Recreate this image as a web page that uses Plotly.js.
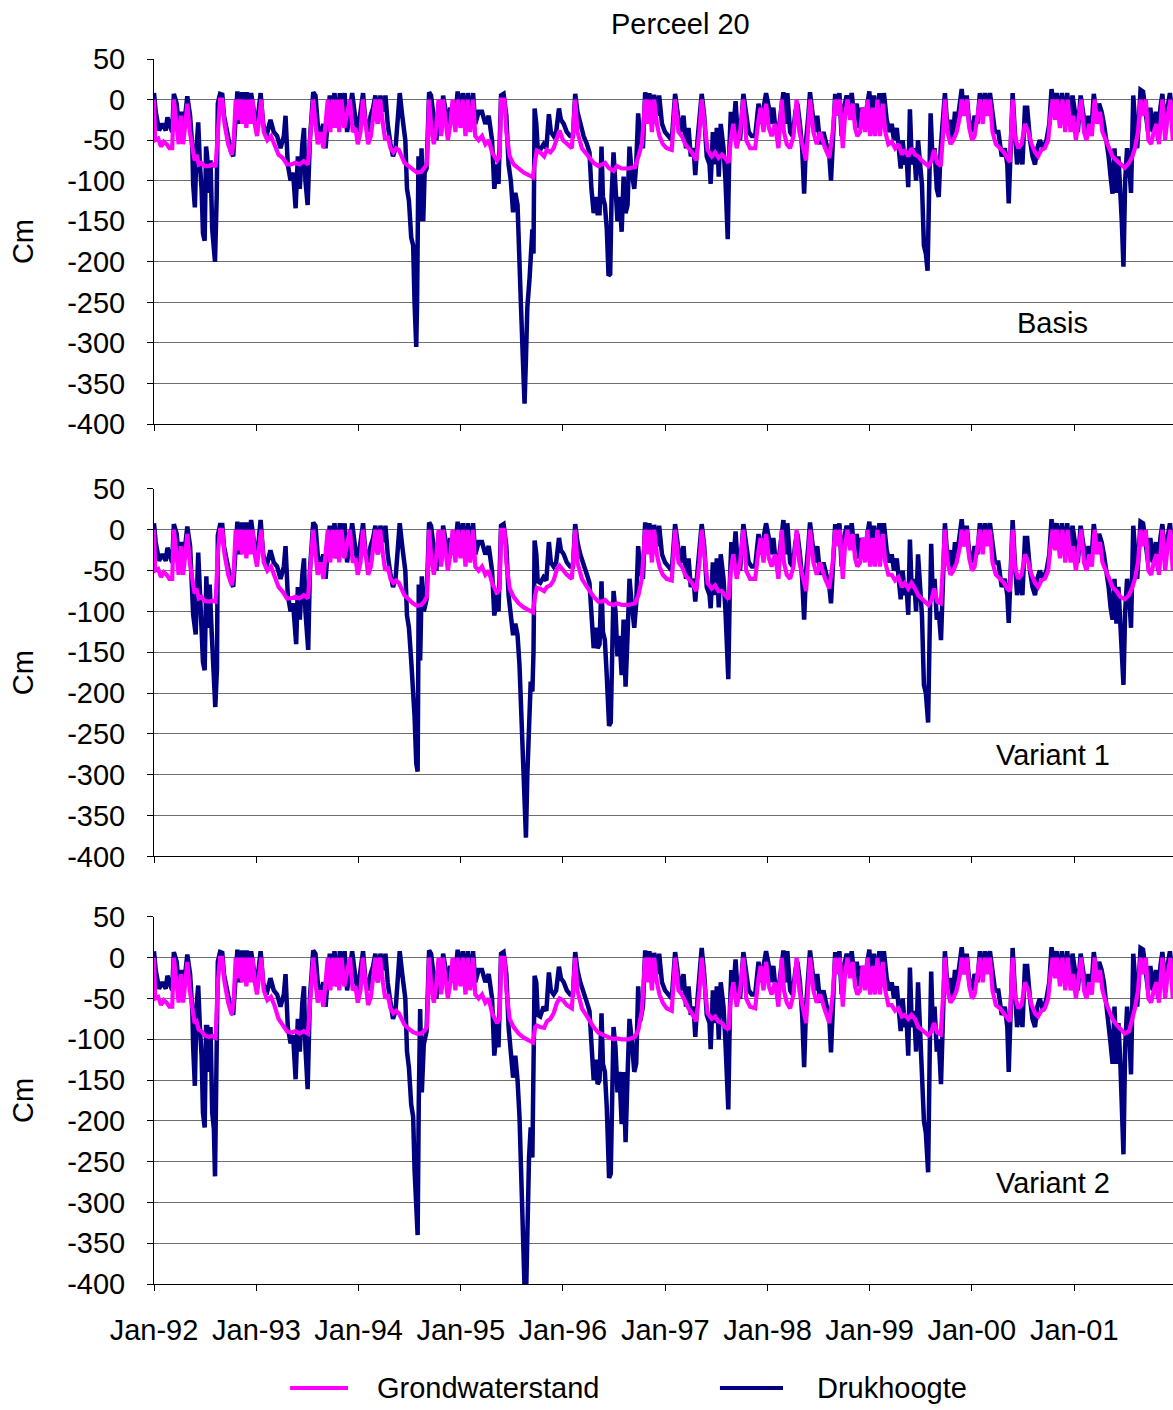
<!DOCTYPE html>
<html>
<head>
<meta charset="utf-8">
<script src="https://cdn.plot.ly/plotly-3.0.1.min.js"></script>
<style>html,body{margin:0;padding:0;background:#fff;}#chart{width:1173px;height:1410px;}</style>
</head>
<body>
<div id="chart"></div>
<script>
// Values: flat lists of [day offset from 1 Jan 1992, value in cm]
const basisDruk = [0,8,6,-15,18,-38,30,-30,42,-38,48,-22,60,-35,65,-40,71,7,81,-5,89,-35,98,-15,105,-40,113,-20,119,4,129,-20,137,-60,140,-105,146,-133,152,-60,158,-28,164,-80,170,-110,175,-165,181,-174,186,-58,190,-70,196,-115,202,-75,208,-160,214,-180,218,-200,224,-120,228,-5,236,7,244,6,250,-20,262,-45,274,-62,283,-70,292,-5,298,10,307,-30,315,9,324,-25,331,9,339,-20,347,8,357,-15,367,-35,375,-10,381,8,390,-30,402,-45,416,-25,428,-40,440,-45,452,-60,464,-45,470,-20,478,-80,488,-100,497,-90,506,-134,514,-70,521,-110,530,-55,536,-35,541,-100,549,-130,557,-50,562,-30,569,9,577,5,585,-30,595,-50,605,-30,613,-60,621,-25,628,5,637,-20,645,8,654,-35,664,8,672,-25,681,8,690,-40,700,-10,708,8,720,-25,728,-40,738,-15,747,8,756,-30,764,-40,774,-20,783,-10,791,5,800,-30,809,5,819,-15,827,5,835,-30,845,-55,854,-70,863,-60,871,-20,878,8,887,-20,898,-50,904,-110,911,-125,919,-170,926,-180,931,-250,937,-305,940,-250,945,-70,950,-150,956,-60,962,-150,967,-90,974,-85,978,-30,983,9,990,5,1000,-25,1009,-50,1017,-5,1026,-40,1033,5,1041,-15,1050,-30,1059,-10,1067,-30,1077,-20,1085,10,1095,-25,1103,8,1113,-30,1121,8,1130,-25,1140,8,1148,-30,1160,-15,1172,-15,1184,-30,1196,-20,1208,-50,1216,-110,1226,-80,1231,-104,1240,5,1249,7,1259,-20,1267,-80,1275,-100,1283,-139,1291,-115,1299,-130,1306,-186,1311,-252,1318,-320,1324,-375,1329,-320,1334,-256,1342,-220,1347,-170,1352,-160,1356,-190,1360,-11,1366,-30,1371,-60,1380,-62,1392,-55,1402,-60,1411,-18,1418,-40,1428,-45,1437,-40,1447,-11,1454,-25,1464,-30,1475,-40,1487,-45,1497,-45,1505,7,1513,-15,1523,-30,1535,-45,1547,-55,1556,-65,1563,-110,1571,-140,1578,-120,1585,-140,1592,-140,1599,-58,1604,-120,1611,-130,1618,-160,1624,-217,1630,-215,1635,-120,1642,-65,1649,-100,1656,-150,1663,-120,1671,-163,1678,-95,1685,-140,1692,-130,1699,-58,1707,-90,1716,-110,1723,-80,1730,-17,1737,-50,1747,-60,1755,9,1763,-20,1770,8,1779,-30,1787,6,1797,-20,1805,5,1815,-30,1826,-40,1838,-45,1850,-50,1862,7,1871,-20,1880,-40,1892,-20,1901,-60,1910,-35,1918,-70,1928,-60,1934,-93,1942,-50,1951,-10,1957,7,1966,-20,1975,-70,1985,-80,1989,-104,1997,-40,2004,-80,2011,-35,2018,-95,2025,-30,2035,-60,2042,-100,2047,-140,2050,-172,2056,-60,2061,-15,2070,-40,2078,-2,2085,-40,2094,-50,2106,7,2116,-20,2125,-40,2136,-45,2148,-45,2160,-5,2168,-30,2178,-10,2187,8,2197,-10,2204,-30,2213,-10,2220,-35,2231,-40,2241,-5,2249,9,2256,-30,2263,8,2273,-40,2282,-45,2292,-15,2299,-5,2308,-30,2316,-60,2323,-116,2330,-50,2338,-20,2344,9,2354,-20,2362,-40,2370,-20,2380,-55,2392,-40,2404,-60,2413,-70,2419,-100,2425,-50,2434,7,2442,-10,2449,8,2457,-45,2466,-10,2475,5,2485,-10,2493,8,2501,-20,2511,-5,2520,-35,2529,-10,2537,-25,2547,-10,2556,10,2564,-30,2573,5,2582,-35,2592,8,2600,-25,2608,8,2618,-25,2628,-40,2636,-30,2644,-50,2654,-35,2663,-70,2668,-85,2675,-50,2683,-80,2689,-70,2695,-108,2701,-12,2708,-80,2716,-60,2723,-100,2730,-50,2737,-80,2744,-105,2751,-180,2758,-190,2764,-211,2770,-100,2775,-17,2782,-75,2789,-60,2797,-110,2804,-120,2811,-60,2818,-30,2826,8,2835,-35,2844,-25,2854,-50,2862,-15,2870,-30,2880,-5,2886,13,2894,-20,2904,5,2913,-30,2923,-40,2932,-20,2942,-30,2951,8,2961,-20,2969,8,2977,-10,2987,8,2996,-20,3005,-40,3017,-40,3029,-70,3040,-60,3049,-80,3054,-128,3061,-50,3068,8,3076,-40,3084,-80,3094,-60,3103,-80,3112,-10,3120,-10,3130,-50,3139,-70,3148,-80,3156,-60,3165,-50,3177,-60,3189,-50,3199,-30,3207,13,3215,-10,3225,8,3234,-20,3244,8,3253,-25,3263,8,3273,-30,3282,5,3292,-25,3301,-40,3311,5,3320,-20,3330,-40,3339,-20,3349,-40,3358,7,3368,-20,3377,-5,3386,-15,3394,-30,3403,-50,3411,-70,3418,-95,3425,-116,3432,-60,3439,-115,3446,-70,3453,-110,3458,-150,3464,-206,3470,-100,3477,-60,3484,-80,3491,-115,3499,5,3506,-30,3513,-60,3520,-20,3525,12,3534,10,3544,-20,3552,-40,3560,-10,3570,-40,3580,-15,3588,-50,3596,-10,3603,7,3612,-30,3620,-15,3630,8,3639,-20];

const basisGrond = [0,0,4,-50,15,-48,25,-58,35,-52,45,-55,55,-60,65,-60,71,0,80,-30,88,-55,96,-20,104,-55,112,-30,119,-5,128,-40,136,-58,145,-75,152,-68,160,-80,170,-78,180,-82,195,-82,210,-80,220,-83,228,-30,236,0,244,0,252,-30,265,-55,278,-68,285,-50,292,0,300,-25,307,0,315,-30,322,0,330,-35,338,0,345,-30,352,0,360,-30,368,-45,376,-25,383,0,392,-40,405,-50,418,-45,430,-55,445,-68,460,-72,475,-80,490,-80,505,-78,520,-80,535,-76,550,-80,560,-40,569,0,577,-30,585,-55,595,-40,605,-60,613,-30,621,0,630,-40,638,0,646,-35,654,0,662,-40,670,0,680,-35,690,-20,700,0,710,-40,720,-35,728,-55,738,-40,746,0,755,-30,765,-55,775,-45,783,-25,791,0,800,-30,808,0,818,-30,826,-50,835,-45,845,-60,855,-65,865,-60,875,-62,885,-70,895,-78,910,-82,925,-86,940,-90,955,-89,965,-85,975,-80,983,0,992,-40,1000,-55,1008,-35,1017,0,1026,-45,1033,0,1041,-30,1050,-50,1059,-30,1067,0,1077,-40,1085,0,1095,-35,1103,0,1113,-45,1121,0,1130,-40,1140,0,1148,-45,1160,-50,1172,-45,1184,-55,1196,-50,1208,-65,1226,-75,1235,-70,1240,0,1252,0,1259,-40,1271,-70,1285,-80,1303,-85,1321,-90,1339,-93,1354,-96,1362,-75,1368,-63,1380,-65,1394,-70,1404,-62,1416,-65,1428,-60,1440,-45,1449,-38,1461,-50,1475,-55,1493,-60,1505,0,1513,-40,1529,-60,1547,-68,1571,-78,1588,-82,1600,-80,1612,-78,1624,-84,1642,-88,1654,-82,1672,-85,1696,-85,1719,-83,1731,-70,1743,-55,1755,0,1763,-30,1770,0,1779,-40,1787,0,1797,-30,1806,-45,1818,-55,1832,-60,1850,-62,1862,0,1874,-40,1886,-45,1898,-55,1910,-60,1922,-65,1937,-75,1949,-40,1957,0,1966,-30,1978,-62,1993,-70,2005,-65,2017,-72,2029,-68,2041,-72,2053,-78,2061,-50,2070,-30,2082,-60,2094,-40,2106,0,2116,-50,2130,-60,2148,-60,2160,-25,2168,-10,2178,-40,2187,-5,2197,-35,2207,-45,2219,-30,2231,-60,2243,0,2251,-40,2261,-55,2273,-60,2285,-45,2296,0,2306,-40,2318,-60,2330,-75,2344,0,2356,-40,2368,-55,2380,-40,2398,-60,2413,-72,2425,-40,2434,0,2442,-20,2451,0,2461,-60,2469,-20,2478,0,2487,-25,2497,-5,2505,-35,2513,-45,2523,-40,2532,-10,2541,-40,2549,0,2559,-45,2568,-10,2576,-45,2585,0,2594,-45,2604,-5,2613,-40,2624,-55,2636,-52,2648,-60,2660,-55,2672,-68,2683,-62,2695,-70,2707,-60,2719,-68,2731,-70,2743,-75,2755,-78,2767,-82,2779,-75,2787,-62,2799,-78,2811,-82,2820,-40,2826,0,2835,-40,2846,-55,2856,-50,2868,-40,2880,-20,2886,0,2894,-20,2904,0,2913,-35,2923,-50,2932,-45,2942,-20,2951,0,2961,-30,2969,0,2977,-20,2987,0,2996,-40,3008,-55,3023,-60,3037,-65,3049,-72,3058,-77,3068,0,3076,-45,3088,-60,3100,-55,3112,-30,3124,-40,3136,-55,3148,-65,3159,-70,3171,-62,3183,-60,3195,-50,3203,-20,3211,0,3219,-25,3227,0,3237,-35,3246,0,3256,-40,3265,0,3275,-40,3284,-20,3294,-50,3303,-30,3313,0,3323,-40,3332,-50,3342,-30,3351,-45,3361,0,3370,-30,3380,-15,3389,-40,3401,-50,3413,-60,3425,-70,3439,-75,3453,-80,3469,-84,3484,-78,3496,-70,3505,-60,3516,-40,3525,0,3534,-20,3544,0,3553,-50,3563,-55,3572,-40,3582,-30,3591,-55,3603,0,3613,-50,3622,-20,3632,0,3640,-50];

const variant1Druk = [0,8,6,-15,18,-38,30,-30,42,-38,48,-22,60,-35,65,-40,71,7,81,-5,89,-35,98,-15,105,-40,113,-20,119,4,129,-20,137,-65,140,-104,149,-128,153,-60,158,-28,164,-75,170,-110,175,-162,181,-172,187,-57,193,-120,199,-67,206,-125,213,-170,219,-217,225,-170,228,-7,236,6,244,6,250,-20,262,-45,274,-62,283,-70,292,-5,298,10,307,-30,315,9,324,-25,331,9,339,-20,347,12,357,-15,367,-35,375,-10,381,12,390,-30,402,-45,416,-25,428,-40,440,-45,452,-60,464,-45,470,-20,478,-80,488,-100,497,-90,508,-140,514,-70,521,-110,530,-55,536,-35,541,-100,551,-147,557,-50,562,-30,569,9,577,5,585,-30,595,-50,605,-30,613,-60,621,-25,628,5,637,-20,645,8,654,-35,664,8,672,-25,681,8,690,-40,700,-10,708,8,720,-25,728,-40,738,-15,747,8,756,-30,764,-40,774,-20,783,-10,791,5,800,-30,809,5,819,-15,827,5,835,-30,845,-55,854,-70,863,-60,871,-20,878,8,887,-20,898,-50,904,-105,911,-120,919,-160,926,-190,931,-228,937,-286,942,-296,946,-67,951,-160,957,-57,964,-100,974,-85,978,-30,983,9,990,5,1000,-25,1009,-50,1017,-5,1026,-40,1033,5,1041,-15,1050,-30,1059,-10,1067,-30,1077,-20,1085,10,1095,-25,1103,8,1113,-30,1121,8,1130,-25,1140,8,1148,-30,1160,-15,1172,-15,1184,-30,1196,-20,1208,-50,1216,-105,1226,-80,1231,-100,1240,5,1249,7,1259,-20,1267,-80,1275,-110,1283,-129,1291,-115,1299,-129,1306,-166,1311,-212,1318,-282,1324,-340,1329,-377,1334,-300,1340,-245,1346,-186,1352,-198,1356,-150,1360,-13,1366,-30,1371,-63,1380,-65,1392,-58,1402,-62,1411,-15,1418,-40,1428,-45,1437,-40,1447,-10,1454,-25,1464,-30,1475,-40,1487,-45,1497,-45,1505,7,1513,-15,1523,-30,1535,-45,1547,-55,1556,-65,1563,-110,1571,-145,1578,-120,1585,-145,1592,-140,1599,-63,1604,-125,1611,-135,1618,-180,1626,-240,1632,-236,1637,-120,1642,-75,1649,-100,1656,-155,1663,-130,1671,-178,1678,-110,1685,-192,1692,-130,1699,-60,1707,-90,1716,-120,1723,-90,1730,-20,1737,-50,1747,-60,1755,9,1763,-20,1770,8,1779,-30,1787,6,1797,-20,1805,5,1815,-30,1826,-40,1838,-45,1850,-50,1862,7,1871,-20,1880,-40,1892,-20,1901,-60,1910,-35,1918,-70,1928,-60,1934,-88,1942,-50,1951,-10,1957,7,1966,-20,1975,-70,1985,-80,1989,-96,1997,-40,2004,-80,2011,-35,2018,-95,2025,-30,2035,-60,2042,-100,2047,-150,2052,-183,2058,-60,2063,-15,2070,-40,2078,-2,2085,-40,2094,-50,2106,7,2116,-20,2125,-40,2136,-45,2148,-45,2160,-5,2168,-30,2178,-10,2187,8,2197,-10,2204,-30,2213,-10,2220,-35,2231,-40,2241,-5,2249,12,2256,-30,2263,8,2273,-40,2282,-45,2292,-15,2299,-5,2308,-30,2316,-60,2323,-110,2330,-50,2338,-20,2344,9,2354,-20,2362,-40,2370,-20,2380,-55,2392,-40,2404,-60,2413,-70,2419,-90,2425,-50,2434,7,2442,-10,2449,8,2457,-45,2466,-10,2475,5,2485,-10,2493,8,2501,-20,2511,-5,2520,-35,2529,-10,2537,-25,2547,-10,2556,10,2564,-30,2573,5,2582,-35,2592,8,2600,-25,2608,8,2618,-25,2628,-40,2636,-30,2644,-50,2654,-35,2663,-70,2668,-85,2675,-50,2683,-80,2689,-70,2695,-104,2701,-12,2708,-80,2716,-60,2723,-100,2730,-30,2737,-80,2744,-105,2751,-190,2758,-200,2766,-236,2772,-100,2777,-17,2782,-75,2789,-60,2797,-110,2804,-100,2812,-135,2818,-60,2826,8,2835,-35,2844,-25,2854,-50,2862,-15,2870,-30,2880,-5,2886,13,2894,-20,2904,5,2913,-30,2923,-40,2932,-20,2942,-30,2951,8,2961,-20,2969,8,2977,-10,2987,8,2996,-20,3005,-40,3017,-40,3029,-70,3040,-60,3049,-80,3054,-114,3061,-50,3068,12,3076,-40,3084,-80,3094,-60,3103,-80,3112,-10,3120,-10,3130,-50,3139,-70,3148,-80,3156,-60,3165,-50,3177,-60,3189,-50,3199,-30,3207,13,3215,-10,3225,8,3234,-20,3244,8,3253,-25,3263,8,3273,-30,3282,5,3292,-25,3301,-40,3311,5,3320,-20,3330,-40,3339,-20,3349,-40,3358,7,3368,-20,3377,-5,3386,-15,3394,-30,3403,-50,3411,-70,3418,-95,3425,-110,3432,-60,3439,-115,3446,-70,3453,-110,3458,-150,3464,-190,3470,-100,3477,-60,3484,-80,3491,-120,3499,5,3506,-30,3513,-60,3520,-20,3525,10,3534,8,3544,-20,3552,-40,3560,-10,3570,-40,3580,-15,3588,-50,3596,-10,3603,7,3612,-30,3620,-15,3630,8,3639,-20];

const variant1Grond = [0,0,4,-50,15,-48,25,-58,35,-52,45,-55,55,-60,65,-60,71,0,80,-30,88,-55,96,-20,104,-55,112,-30,119,-5,128,-40,136,-58,145,-78,152,-72,160,-84,170,-82,180,-87,195,-88,210,-87,220,-88,228,-30,236,0,244,0,252,-30,265,-55,278,-68,285,-50,292,0,300,-25,307,0,315,-30,322,0,330,-35,338,0,345,-30,352,0,360,-30,368,-45,376,-25,383,0,392,-40,405,-50,418,-45,430,-55,445,-70,460,-76,475,-84,490,-84,505,-82,520,-84,535,-80,550,-84,560,-40,569,0,577,-30,585,-55,595,-40,605,-60,613,-30,621,0,630,-40,638,0,646,-35,654,0,662,-40,670,0,680,-35,690,-20,700,0,710,-40,720,-35,728,-55,738,-40,746,0,755,-30,765,-55,775,-45,783,-25,791,0,800,-30,808,0,818,-30,826,-50,835,-45,845,-60,855,-65,865,-62,875,-65,885,-72,895,-80,910,-85,925,-90,940,-93,955,-92,965,-88,975,-82,983,0,992,-40,1000,-55,1008,-35,1017,0,1026,-45,1033,0,1041,-30,1050,-50,1059,-30,1067,0,1077,-40,1085,0,1095,-35,1103,0,1113,-45,1121,0,1130,-40,1140,0,1148,-45,1160,-50,1172,-45,1184,-55,1196,-50,1208,-65,1226,-78,1235,-72,1240,0,1252,0,1259,-40,1271,-72,1285,-82,1303,-90,1321,-95,1339,-99,1354,-101,1362,-80,1368,-71,1380,-72,1394,-75,1404,-70,1416,-68,1428,-62,1440,-48,1449,-44,1461,-50,1475,-55,1493,-60,1505,0,1513,-40,1529,-60,1547,-70,1571,-82,1588,-88,1600,-88,1612,-86,1624,-90,1642,-92,1654,-90,1672,-92,1696,-92,1719,-90,1731,-80,1743,-60,1755,0,1763,-30,1770,0,1779,-40,1787,0,1797,-30,1806,-45,1818,-55,1832,-60,1850,-62,1862,0,1874,-40,1886,-45,1898,-55,1910,-60,1922,-65,1937,-75,1949,-40,1957,0,1966,-30,1978,-65,1993,-72,2005,-68,2017,-75,2029,-75,2041,-80,2053,-85,2061,-50,2070,-30,2082,-60,2094,-40,2106,0,2116,-50,2130,-60,2148,-60,2160,-25,2168,-10,2178,-40,2187,-5,2197,-35,2207,-45,2219,-30,2231,-60,2243,0,2251,-40,2261,-55,2273,-60,2285,-45,2296,0,2306,-40,2318,-60,2330,-75,2344,0,2356,-40,2368,-55,2380,-40,2398,-60,2413,-72,2425,-40,2434,0,2442,-20,2451,0,2461,-60,2469,-20,2478,0,2487,-25,2497,-5,2505,-35,2513,-45,2523,-40,2532,-10,2541,-40,2549,0,2559,-45,2568,-10,2576,-45,2585,0,2594,-45,2604,-5,2613,-40,2624,-55,2636,-55,2648,-62,2660,-58,2672,-70,2683,-65,2695,-72,2707,-65,2719,-72,2731,-80,2743,-84,2755,-88,2767,-92,2779,-85,2787,-72,2799,-88,2811,-90,2820,-40,2826,0,2835,-40,2846,-55,2856,-50,2868,-40,2880,-20,2886,0,2894,-20,2904,0,2913,-35,2923,-50,2932,-45,2942,-20,2951,0,2961,-30,2969,0,2977,-20,2987,0,2996,-40,3008,-55,3023,-60,3037,-65,3049,-72,3058,-75,3068,0,3076,-45,3088,-60,3100,-55,3112,-30,3124,-40,3136,-55,3148,-65,3159,-70,3171,-62,3183,-60,3195,-50,3203,-20,3211,0,3219,-25,3227,0,3237,-35,3246,0,3256,-40,3265,0,3275,-40,3284,-20,3294,-50,3303,-30,3313,0,3323,-40,3332,-50,3342,-30,3351,-45,3361,0,3370,-30,3380,-15,3389,-40,3401,-50,3413,-60,3425,-70,3439,-75,3453,-82,3469,-85,3484,-80,3496,-70,3505,-60,3516,-40,3525,0,3534,-20,3544,0,3553,-50,3563,-55,3572,-40,3582,-30,3591,-55,3603,0,3613,-50,3622,-20,3632,0,3640,-50];

const variant2Druk = [0,8,6,-15,18,-38,30,-30,42,-38,48,-22,60,-35,65,-40,71,7,81,-5,89,-35,98,-15,105,-40,113,-20,119,4,129,-20,137,-65,140,-110,146,-157,152,-60,158,-34,164,-85,170,-120,175,-190,181,-208,186,-85,190,-85,196,-140,202,-85,208,-190,214,-210,218,-268,224,-130,228,-5,236,7,244,6,250,-20,262,-45,274,-62,283,-70,292,-5,298,10,307,-30,315,9,324,-25,331,9,339,-20,347,8,357,-15,367,-35,375,-10,381,8,390,-30,402,-45,416,-25,428,-40,440,-45,452,-60,464,-45,470,-20,478,-85,488,-105,497,-95,506,-149,514,-75,521,-115,530,-55,536,-35,541,-110,549,-161,557,-50,562,-30,569,9,577,5,585,-30,595,-50,605,-30,613,-60,621,-25,628,5,637,-20,645,8,654,-35,664,8,672,-25,681,8,690,-40,700,-10,708,8,720,-25,728,-40,738,-15,747,8,756,-30,764,-40,774,-20,783,-10,791,5,800,-30,809,5,819,-15,827,5,835,-30,845,-55,854,-75,863,-65,871,-20,878,8,887,-20,898,-50,904,-115,911,-135,919,-180,926,-195,931,-260,937,-325,942,-340,946,-178,951,-63,957,-165,964,-106,974,-90,978,-30,983,9,990,5,1000,-25,1009,-50,1017,-5,1026,-40,1033,5,1041,-15,1050,-30,1059,-10,1067,-30,1077,-20,1085,10,1095,-25,1103,8,1113,-30,1121,8,1130,-25,1140,8,1148,-30,1160,-15,1172,-15,1184,-30,1196,-20,1208,-50,1216,-120,1226,-80,1231,-110,1240,5,1249,7,1259,-20,1267,-85,1275,-110,1283,-147,1291,-120,1299,-150,1306,-195,1311,-250,1318,-335,1324,-405,1330,-405,1334,-306,1340,-245,1346,-208,1352,-245,1360,-22,1366,-30,1371,-70,1380,-72,1392,-60,1402,-65,1411,-18,1418,-40,1428,-45,1437,-40,1447,-11,1454,-25,1464,-30,1475,-40,1487,-45,1497,-45,1505,7,1513,-15,1523,-30,1535,-45,1547,-55,1556,-65,1563,-115,1571,-150,1578,-125,1585,-155,1592,-150,1599,-68,1604,-130,1611,-140,1618,-185,1626,-270,1632,-265,1637,-130,1642,-85,1649,-110,1656,-165,1663,-140,1671,-204,1678,-140,1685,-226,1692,-145,1699,-75,1707,-100,1716,-140,1723,-130,1730,-35,1737,-78,1747,-60,1755,9,1763,-20,1770,8,1779,-30,1787,6,1797,-20,1805,5,1815,-30,1826,-40,1838,-45,1850,-50,1862,7,1871,-20,1880,-40,1892,-20,1901,-60,1910,-35,1918,-70,1928,-60,1934,-97,1942,-50,1951,-10,1957,12,1966,-20,1975,-70,1985,-80,1989,-112,1997,-40,2004,-80,2011,-35,2018,-100,2025,-30,2035,-60,2042,-105,2047,-155,2052,-186,2058,-60,2063,-15,2070,-40,2078,-2,2085,-40,2094,-50,2106,7,2116,-20,2125,-40,2136,-45,2148,-45,2160,-5,2168,-30,2178,-10,2187,8,2197,-10,2204,-30,2213,-10,2220,-35,2231,-40,2241,-5,2249,9,2256,-30,2263,8,2273,-40,2282,-45,2292,-15,2299,-5,2308,-30,2316,-70,2323,-134,2330,-60,2338,-20,2344,9,2354,-20,2362,-40,2370,-20,2380,-55,2392,-40,2404,-60,2413,-75,2419,-116,2425,-55,2434,7,2442,-10,2449,8,2457,-45,2466,-10,2475,5,2485,-10,2493,8,2501,-20,2511,-5,2520,-35,2529,-10,2537,-25,2547,-10,2556,10,2564,-30,2573,5,2582,-35,2592,8,2600,-25,2608,8,2618,-25,2628,-40,2636,-30,2644,-50,2654,-35,2663,-75,2668,-90,2675,-50,2683,-85,2689,-75,2695,-120,2701,-12,2708,-85,2716,-65,2723,-115,2730,-30,2737,-85,2744,-115,2751,-200,2758,-215,2766,-263,2772,-110,2777,-17,2782,-80,2789,-60,2797,-115,2804,-100,2812,-155,2818,-60,2826,8,2835,-35,2844,-25,2854,-50,2862,-15,2870,-30,2880,-5,2886,13,2894,-20,2904,5,2913,-30,2923,-40,2932,-20,2942,-30,2951,8,2961,-20,2969,8,2977,-10,2987,8,2996,-20,3005,-40,3017,-40,3029,-70,3040,-60,3049,-85,3054,-140,3061,-50,3068,12,3076,-40,3084,-85,3094,-60,3103,-85,3112,-10,3120,-10,3130,-50,3139,-75,3148,-85,3156,-60,3165,-50,3177,-65,3189,-50,3199,-30,3207,13,3215,-10,3225,8,3234,-20,3244,8,3253,-25,3263,8,3273,-30,3282,5,3292,-25,3301,-40,3311,5,3320,-20,3330,-40,3339,-20,3349,-40,3358,7,3368,-20,3377,-5,3386,-15,3394,-30,3403,-55,3411,-75,3418,-105,3425,-130,3432,-60,3439,-130,3446,-80,3453,-130,3458,-170,3464,-241,3470,-110,3477,-60,3484,-90,3491,-143,3499,5,3506,-30,3513,-60,3520,-20,3525,12,3534,10,3544,-20,3552,-40,3560,-10,3570,-40,3580,-15,3588,-50,3596,-10,3603,7,3612,-30,3620,-15,3630,8,3639,-20];

const variant2Grond = [0,0,4,-50,15,-48,25,-58,35,-52,45,-55,55,-60,65,-60,71,0,80,-30,88,-55,96,-20,104,-55,112,-30,119,-5,128,-40,136,-60,145,-80,152,-78,160,-88,170,-90,180,-95,195,-97,210,-96,220,-98,228,-30,236,0,244,0,252,-30,265,-55,278,-70,285,-50,292,0,300,-25,307,0,315,-30,322,0,330,-35,338,0,345,-30,352,0,360,-30,368,-45,376,-25,383,0,392,-40,405,-52,418,-48,430,-58,445,-75,460,-82,475,-90,490,-92,505,-90,520,-93,535,-90,550,-93,560,-40,569,0,577,-30,585,-55,595,-40,605,-60,613,-30,621,0,630,-40,638,0,646,-35,654,0,662,-40,670,0,680,-35,690,-20,700,0,710,-40,720,-35,728,-55,738,-40,746,0,755,-30,765,-58,775,-48,783,-25,791,0,800,-30,808,0,818,-30,826,-50,835,-45,845,-62,855,-68,865,-65,875,-68,885,-75,895,-82,910,-87,925,-91,940,-93,955,-93,965,-90,975,-85,983,0,992,-40,1000,-55,1008,-35,1017,0,1026,-45,1033,0,1041,-30,1050,-50,1059,-30,1067,0,1077,-40,1085,0,1095,-35,1103,0,1113,-45,1121,0,1130,-40,1140,0,1148,-45,1160,-50,1172,-45,1184,-55,1196,-50,1208,-68,1226,-80,1235,-75,1240,0,1252,0,1259,-40,1271,-75,1285,-85,1303,-93,1321,-98,1339,-102,1354,-104,1362,-85,1368,-83,1380,-85,1394,-86,1404,-78,1416,-75,1428,-68,1440,-55,1449,-50,1461,-52,1475,-58,1493,-62,1505,0,1513,-40,1529,-62,1547,-72,1571,-85,1588,-92,1600,-94,1612,-96,1624,-98,1642,-100,1654,-99,1672,-100,1696,-100,1719,-97,1731,-88,1743,-65,1755,0,1763,-30,1770,0,1779,-40,1787,0,1797,-30,1806,-45,1818,-55,1832,-62,1850,-65,1862,0,1874,-40,1886,-45,1898,-55,1910,-62,1922,-68,1937,-78,1949,-40,1957,0,1966,-30,1978,-68,1993,-75,2005,-72,2017,-78,2029,-80,2041,-85,2053,-88,2061,-50,2070,-30,2082,-60,2094,-40,2106,0,2116,-50,2130,-60,2148,-62,2160,-25,2168,-10,2178,-40,2187,-5,2197,-35,2207,-45,2219,-30,2231,-60,2243,0,2251,-40,2261,-55,2273,-62,2285,-45,2296,0,2306,-40,2318,-62,2330,-80,2344,0,2356,-40,2368,-55,2380,-45,2398,-65,2413,-80,2425,-45,2434,0,2442,-20,2451,0,2461,-60,2469,-20,2478,0,2487,-25,2497,-5,2505,-35,2513,-45,2523,-40,2532,-10,2541,-40,2549,0,2559,-45,2568,-10,2576,-45,2585,0,2594,-45,2604,-5,2613,-40,2624,-58,2636,-58,2648,-65,2660,-62,2672,-72,2683,-70,2695,-75,2707,-70,2719,-75,2731,-85,2743,-88,2755,-92,2767,-95,2779,-90,2787,-80,2799,-92,2811,-94,2820,-45,2826,0,2835,-40,2846,-55,2856,-50,2868,-40,2880,-20,2886,0,2894,-20,2904,0,2913,-35,2923,-50,2932,-45,2942,-20,2951,0,2961,-30,2969,0,2977,-20,2987,0,2996,-40,3008,-58,3023,-62,3037,-68,3049,-75,3058,-78,3068,0,3076,-45,3088,-62,3100,-58,3112,-30,3124,-40,3136,-58,3148,-68,3159,-72,3171,-65,3183,-62,3195,-50,3203,-20,3211,0,3219,-25,3227,0,3237,-35,3246,0,3256,-40,3265,0,3275,-40,3284,-20,3294,-50,3303,-30,3313,0,3323,-40,3332,-50,3342,-30,3351,-45,3361,0,3370,-30,3380,-15,3389,-40,3401,-55,3413,-65,3425,-75,3439,-82,3453,-88,3469,-93,3484,-90,3496,-75,3505,-62,3516,-40,3525,0,3534,-20,3544,0,3553,-50,3563,-55,3572,-40,3582,-30,3591,-55,3603,0,3613,-50,3622,-20,3632,0,3640,-50];

const panelNames = ['Basis', 'Variant 1', 'Variant 2'];
const seriesNames = ['Grondwaterstand', 'Drukhoogte'];
const yTickVals = [50, 0, -50, -100, -150, -200, -250, -300, -350, -400];
const yTickText = ['50', '0', '-50', '-100', '-150', '-200', '-250', '-300', '-350', '-400'];
const chartTitle = 'Perceel 20';
const yTitle = 'Cm';

const START = Date.UTC(1992, 0, 1);
function unpack(flat) {
  const x = [], y = [];
  for (let i = 0; i < flat.length; i += 2) {
    x.push(new Date(START + flat[i] * 864e5).toISOString().slice(0, 10));
    y.push(flat[i + 1]);
  }
  return {x, y};
}

const NAVY = '#000080', MAGENTA = '#FF00FF';
const panels = [[basisDruk, basisGrond], [variant1Druk, variant1Grond], [variant2Druk, variant2Grond]];
const traces = [];
panels.forEach((p, i) => {
  const ax = i === 0 ? '' : String(i + 1);
  const d = unpack(p[0]), g = unpack(p[1]);
  traces.push({type: 'scatter', mode: 'lines', x: d.x, y: d.y, xaxis: 'x' + ax, yaxis: 'y' + ax,
    name: seriesNames[1], showlegend: false,
    line: {color: NAVY, width: 4.5, shape: 'linear'}, hoverinfo: 'skip'});
  traces.push({type: 'scatter', mode: 'lines', x: g.x, y: g.y, xaxis: 'x' + ax, yaxis: 'y' + ax,
    name: seriesNames[0], showlegend: false,
    line: {color: MAGENTA, width: 4.2, shape: 'linear'}, hoverinfo: 'skip'});
});

const FONT = 'Liberation Sans, Arial, sans-serif';
const domains = [[0.702, 1.0], [0.349, 0.649], [0.0, 0.2996]];
const layout = {
  width: 1173, height: 1410,
  margin: {l: 154, r: 0, t: 59, b: 126, pad: 0},
  paper_bgcolor: '#ffffff', plot_bgcolor: '#ffffff',
  font: {family: FONT, size: 29, color: '#000000'},
  title: {text: chartTitle, x: 0.58, xref: 'container', xanchor: 'center', y: 0.983, yref: 'container', yanchor: 'middle', font: {size: 29}},
  showlegend: false,
  annotations: [],
  shapes: [],
  hovermode: false
};
domains.forEach((dom, i) => {
  const ax = i === 0 ? '' : String(i + 1);
  layout['xaxis' + ax] = {
    type: 'date', range: ['1992-01-01', '2001-12-20'], anchor: 'y' + ax,
    tickformat: '%b-%y', dtick: 'M12', tick0: '1992-01-01',
    ticks: 'outside', ticklen: 6, tickcolor: '#000', tickwidth: 1,
    showticklabels: i === 2, ticklabelstandoff: 14,
    showgrid: false, showline: true, linecolor: '#000', linewidth: 1, zeroline: false,
    tickfont: {size: 29}, automargin: false
  };
  layout['yaxis' + ax] = {
    domain: dom, range: [-400, 50], anchor: 'x' + ax,
    tickvals: yTickVals, ticktext: yTickText, tickmode: 'array',
    ticks: 'outside', ticklen: 6, tickcolor: '#000', tickwidth: 1, ticklabelstandoff: 16,
    showgrid: true, gridcolor: '#6e6e6e', gridwidth: 1,
    showline: true, linecolor: '#000', linewidth: 1, zeroline: false,
    title: {text: yTitle, standoff: 24, font: {size: 29}},
    tickfont: {size: 29}, automargin: false
  };
  layout.annotations.push({text: panelNames[i], xref: 'paper', x: 0.882, xanchor: 'center',
    yref: 'y' + ax + ' domain', y: 0.276, yanchor: 'middle', showarrow: false, font: {size: 29}});
});

// Legend drawn below the panels: swatch line + label for each series
const legendItems = [
  {name: seriesNames[0], color: MAGENTA, x0: 0.1335, x1: 0.1904, tx: 0.2169},
  {name: seriesNames[1], color: NAVY, x0: 0.5554, x1: 0.6173, tx: 0.6487}
];
const LEGEND_Y = -0.0849;
legendItems.forEach(it => {
  layout.shapes.push({type: 'line', xref: 'paper', yref: 'paper', x0: it.x0, x1: it.x1, y0: LEGEND_Y, y1: LEGEND_Y,
    line: {color: it.color, width: 4}});
  layout.annotations.push({text: it.name, xref: 'paper', yref: 'paper', x: it.tx, y: LEGEND_Y,
    xanchor: 'left', yanchor: 'middle', showarrow: false, font: {size: 29}});
});

Plotly.newPlot('chart', traces, layout, {staticPlot: true, displayModeBar: false});
</script>
</body>
</html>
